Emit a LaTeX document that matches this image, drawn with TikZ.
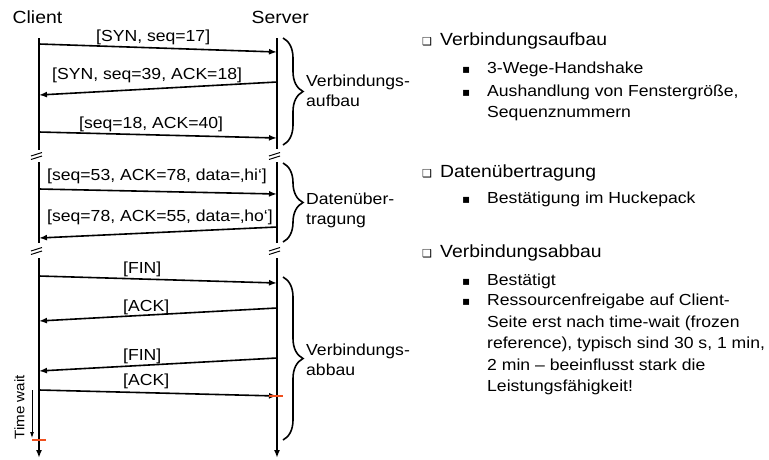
\documentclass[tikz,border=0pt]{standalone}
\usepackage{fontspec}
\setmainfont{Liberation Sans}[FakeStretch=1.1]
\newfontfamily\symfont{DejaVu Sans}
\usetikzlibrary{arrows.meta,decorations.pathreplacing}
\definecolor{tickred}{RGB}{240,80,30}
\begin{document}
\begin{tikzpicture}[x=1pt,y=-1pt,
  life/.style={line width=2pt},
  lifeend/.style={line width=2pt,-{Latex[length=8pt,width=6pt]}},
  msg/.style={line width=1.6pt,-{Latex[length=8pt,width=6pt]}},
  brk/.style={line width=1pt},
  brc/.style={line width=1.6pt,decorate,decoration={brace,amplitude=20pt,aspect=0.5}},
  tick/.style={line width=2pt,draw=tickred},
  lbl/.style={anchor=base west,inner sep=0pt,font=\fontsize{16}{19}\selectfont},
  head/.style={anchor=base west,inner sep=0pt,font=\fontsize{17.6}{21}\selectfont},
  sub/.style={anchor=base west,inner sep=0pt,font=\fontsize{16}{20}\selectfont},
  box/.style={anchor=base west,inner sep=0pt,font=\symfont\fontsize{11}{12}\selectfont},
  bul/.style={anchor=base west,inner sep=0pt,font=\symfont\fontsize{12}{12}\selectfont}]
\useasboundingbox (0,0) rectangle (769,459);

% headers
\node[head] (client) at (12.5,23.3) {Client};
\node[head] (server) at (251.5,23.3) {Server};

% lifeline coordinates
\coordinate (ca1) at (39,38);  \coordinate (ca2) at (39,150);
\coordinate (cb1) at (39,162); \coordinate (cb2) at (39,243);
\coordinate (cc1) at (39,258); \coordinate (cc2) at (39,458);
\coordinate (sa1) at (277,38);  \coordinate (sa2) at (277,149);
\coordinate (sb1) at (277,162); \coordinate (sb2) at (277,243);
\coordinate (sc1) at (277,258); \coordinate (sc2) at (277,458);
\draw[life] (ca1) -- (ca2);
\draw[life] (cb1) -- (cb2);
\draw[lifeend] (cc1) -- (cc2);
\draw[life] (sa1) -- (sa2);
\draw[life] (sb1) -- (sb2);
\draw[lifeend] (sc1) -- (sc2);

% break marks
\coordinate (bk1) at (37,156);
\coordinate (bk2) at (37,251);
\coordinate (bk3) at (275,156);
\coordinate (bk4) at (275,251);
\foreach \b in {bk1,bk2,bk3,bk4}{
  \draw[brk] (\b) ++(-6,0) -- ++(11,-3.5);
  \draw[brk] (\b) ++(-6,3.5) -- ++(11,-3.5);
}

% messages
\coordinate (c1) at (39,44);  \coordinate (s1) at (277,52);
\coordinate (s2) at (277,82); \coordinate (c2) at (39,95);
\coordinate (c3) at (39,132); \coordinate (s3) at (277,138);
\coordinate (c4) at (39,189); \coordinate (s4) at (277,194);
\coordinate (s5) at (277,227); \coordinate (c5) at (39,238);
\coordinate (c6) at (39,276); \coordinate (s6) at (277,283);
\coordinate (s7) at (277,308); \coordinate (c7) at (39,321);
\coordinate (s8) at (277,358); \coordinate (c8) at (39,371);
\coordinate (c9) at (39,390); \coordinate (s9) at (277,396);
\draw[msg] (c1) -- (s1);
\draw[msg] (s2) -- (c2);
\draw[msg] (c3) -- (s3);
\draw[msg] (c4) -- (s4);
\draw[msg] (s5) -- (c5);
\draw[msg] (c6) -- (s6);
\draw[msg] (s7) -- (c7);
\draw[msg] (s8) -- (c8);
\draw[msg] (c9) -- (s9);

\node[lbl] (l1) at (96,41.7) {[SYN, seq=17]};
\node[lbl] (l2) at (52,79.5) {[SYN, seq=39, ACK=18]};
\node[lbl] (l3) at (79,128) {[seq=18, ACK=40]};
\node[lbl] (l4) at (47,180.5) {[seq=53, ACK=78, data=‚hi‘]};
\node[lbl] (l5) at (47,221.5) {[seq=78, ACK=55, data=‚ho‘]};
\node[lbl] (l6) at (123,273.3) {[FIN]};
\node[lbl] (l7) at (123,311) {[ACK]};
\node[lbl] (l8) at (123,360.7) {[FIN]};
\node[lbl] (l9) at (123,385.7) {[ACK]};

% time wait
\coordinate (tw1) at (32,390);
\coordinate (tw2) at (32,438);
\draw[line width=0.8pt,-{Latex[length=6pt,width=4pt]}] (tw1) -- (tw2);
\node[inner sep=0pt,rotate=90,font=\fontsize{13.8}{16}\selectfont] (tw) at (19.5,407.5) {Time wait};
\coordinate (rt1) at (32,440); \coordinate (rt2) at (46,440);
\coordinate (rt3) at (269,396); \coordinate (rt4) at (283,396);
\draw[tick] (rt1) -- (rt2);
\draw[tick] (rt3) -- (rt4);

% braces
\coordinate (b1a) at (283,38);  \coordinate (b1b) at (283,145);
\coordinate (b2a) at (283,163); \coordinate (b2b) at (283,242);
\coordinate (b3a) at (283,277); \coordinate (b3b) at (283,440);
\draw[brc] (b1a) -- (b1b);
\draw[brc] (b2a) -- (b2b);
\draw[brc] (b3a) -- (b3b);
\node[lbl] (p1a) at (306,86.7) {Verbindungs-};
\node[lbl] (p1b) at (306,106.5) {aufbau};
\node[lbl] (p2a) at (306,204.3) {Datenüber-};
\node[lbl] (p2b) at (306,224.5) {tragung};
\node[lbl] (p3a) at (306,355) {Verbindungs-};
\node[lbl] (p3b) at (306,375) {abbau};

% right panel
\node[box] (q1) at (422,45) {❑};
\node[head] (h1) at (440,45) {Verbindungsaufbau};
\node[bul] (u1) at (462,73) {▪};
\node[sub] (t1) at (487,73) {3-Wege-Handshake};
\node[bul] (u2) at (462,96) {▪};
\node[sub] (t2) at (487,96) {Aushandlung von Fenstergröße,};
\node[sub] (t3) at (487,117) {Sequenznummern};

\node[box] (q2) at (422,177) {❑};
\node[head] (h2) at (440,177) {Datenübertragung};
\node[bul] (u3) at (462,203) {▪};
\node[sub] (t4) at (487,203) {Bestätigung im Huckepack};

\node[box] (q3) at (422,257) {❑};
\node[head] (h3) at (440,257) {Verbindungsabbau};
\node[bul] (u4) at (462,285) {▪};
\node[sub] (t5) at (487,285) {Bestätigt};
\node[bul] (u5) at (462,305.5) {▪};
\node[sub] (t6) at (487,305.5) {Ressourcenfreigabe auf Client-};
\node[sub] (t7) at (487,327) {Seite erst nach time-wait (frozen};
\node[sub] (t8) at (487,348.5) {reference), typisch sind 30 s, 1 min,};
\node[sub] (t9) at (487,370) {2 min – beeinflusst stark die};
\node[sub] (t10) at (487,391.5) {Leistungsfähigkeit!};
\end{tikzpicture}
\end{document}
